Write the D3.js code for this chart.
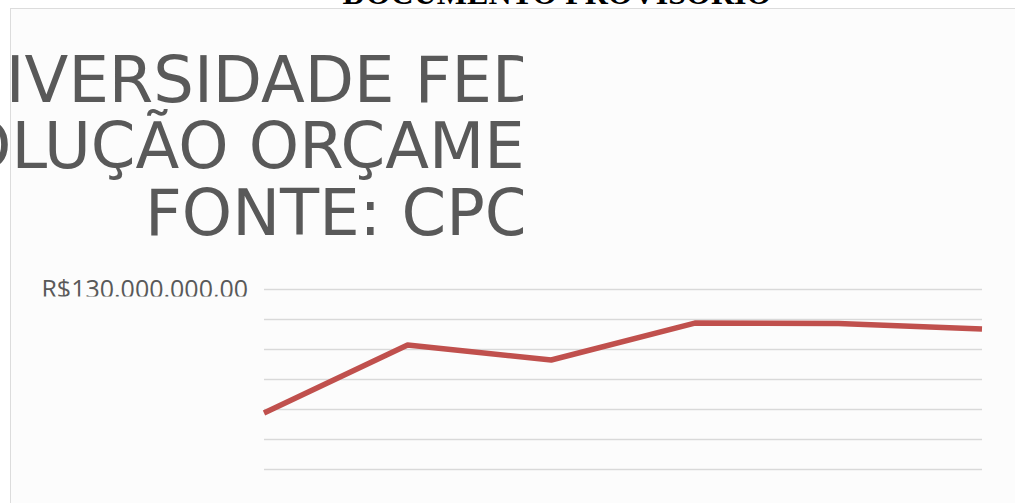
<!DOCTYPE html>
<html>
<head>
<meta charset="utf-8">
<script src="https://cdn.jsdelivr.net/npm/d3@7"></script>
<style>
	body { margin: 0; background: #ffffff; overflow: hidden; }
	svg { display: block; }
</style>
</head>
<body>
<div id="chart"></div>
<script>
// chart data
var categories = ["2013", "2014", "2015", "2016", "2017", "2018"];
var values = [88800000, 111500000, 106500000, 118800000, 118700000, 116800000];
var yTicks = [70000000, 80000000, 90000000, 100000000, 110000000, 120000000, 130000000];
var yLabelTicks = [130000000];
var titleLines = ["UNIVERSIDADE FEDERAL", "EVOLUÇÃO ORÇAMENTÁRIA", "FONTE: CPC"];
var stampText = "DOCUMENTO PROVISÓRIO";

var width = 1015, height = 503;

var svg = d3.select("#chart").append("svg")
	.attr("width", width).attr("height", height);

var defs = svg.append("defs");
defs.append("clipPath").attr("id", "titleClip")
	.append("rect").attr("x", 0).attr("y", 8).attr("width", 523).attr("height", 245);
defs.append("clipPath").attr("id", "labelClip")
	.append("rect").attr("x", 10).attr("y", 250).attr("width", 250).attr("height", 46.5);

// stamp text cut by the top of the page
svg.append("text")
	.attr("x", 557).attr("y", 4)
	.attr("text-anchor", "middle")
	.attr("font-family", "Liberation Serif")
	.attr("font-weight", "bold")
	.attr("font-size", 32)
	.attr("fill", "#000")
	.text(stampText);

// chart panel
svg.append("rect")
	.attr("x", 10.5).attr("y", 8.5)
	.attr("width", width).attr("height", height)
	.attr("fill", "#fcfcfc")
	.attr("stroke", "#dcdcdc");

// title
var titleX = [-89, -122, 145];
var titleY = [102, 168, 235];
svg.append("g").attr("clip-path", "url(#titleClip)")
	.selectAll("text").data(titleLines).enter().append("text")
	.attr("x", function(d, i) { return titleX[i]; })
	.attr("y", function(d, i) { return titleY[i]; })
	.attr("font-family", "DejaVu Sans")
	.attr("font-size", 64)
	.attr("fill", "#595959")
	.text(function(d) { return d; });

// scales
var xScale = d3.scalePoint().domain(categories).range([264, 982]);
var yScale = d3.scaleLinear().domain([70000000, 130000000]).range([469.5, 289.5]);

// gridlines
svg.append("g").selectAll("line").data(yTicks).enter().append("line")
	.attr("x1", 264).attr("x2", 982)
	.attr("y1", function(d) { return yScale(d); })
	.attr("y2", function(d) { return yScale(d); })
	.attr("stroke", "#d9d9d9")
	.attr("stroke-width", 1.5);

// y axis label, bottom cut off as in the original
var fmt = function(d) {
	return "R$" + d3.format(",.2f")(d).replace(/,/g, "#").replace(/\./g, ",").replace(/#/g, ".");
};
var yAxis = d3.axisLeft(yScale).tickValues(yLabelTicks).tickSize(0).tickPadding(0).tickFormat(fmt);
var axisG = svg.append("g")
	.attr("clip-path", "url(#labelClip)")
	.append("g")
	.attr("transform", "translate(248, 0)")
	.call(yAxis);
axisG.select(".domain").remove();
axisG.selectAll("text")
	.attr("font-family", "Open Sans")
	.attr("font-size", 25)
	.attr("fill", "#595959")
	.attr("dy", "0.3em");

// line
var line = d3.line()
	.x(function(d, i) { return xScale(categories[i]); })
	.y(function(d) { return yScale(d); });

svg.append("path")
	.datum(values)
	.attr("d", line)
	.attr("fill", "none")
	.attr("stroke", "#c0504d")
	.attr("stroke-width", 5.5)
	.attr("stroke-linejoin", "round");
</script>
</body>
</html>
